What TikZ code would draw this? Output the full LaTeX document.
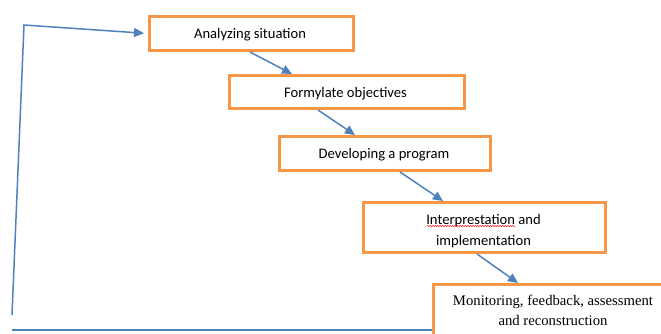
\documentclass[tikz,border=0pt]{standalone}
\usepackage{fontspec}
\setmainfont{Carlito}
\newfontfamily\timesfont{Liberation Serif}
\usetikzlibrary{arrows.meta,decorations.pathmorphing}
\definecolor{boxorange}{HTML}{F79646}
\definecolor{arrowblue}{HTML}{4F81BD}
\tikzset{
  stepbox/.style={draw=boxorange, line width=3pt, fill=white, anchor=north west, inner sep=0pt, align=center, font=\fontsize{14.4}{21}\selectfont},
  steptext/.style={inner sep=0pt, align=center, yshift=-1.5pt, font=\fontsize{14.6}{21}\selectfont},
  flow/.style={draw=arrowblue, line width=1.5pt, -{Triangle[length=10pt,width=9pt]}},
  plain/.style={draw=arrowblue, line width=1.5pt}
}
\begin{document}
\begin{tikzpicture}[x=1pt,y=-1pt]
\useasboundingbox (0,0) rectangle (661,333);
\clip (0,0) rectangle (661,333);
\node[stepbox, minimum width=204pt, minimum height=34pt] (a) at (148,15) {};
\node[steptext] (at) at (250,33) {Analyzing situation};
\node[stepbox, minimum width=235pt, minimum height=33pt] (b) at (228,74) {};
\node[steptext] (bt) at (345.5,92.5) {Formylate objectives};
\node[stepbox, minimum width=211pt, minimum height=34pt] (c) at (278,135) {};
\node[steptext] (ct) at (384,153) {Developing a program};
\node[stepbox, minimum width=242pt, minimum height=50pt] (d) at (362,201) {};
\node[steptext] (dt) at (483.5,230) {Interprestation and\\implementation};
\node[stepbox, minimum width=236pt, minimum height=56pt] (e) at (432,283) {};
\node[font=\timesfont\fontsize{14.7}{19.5}\selectfont, align=center, inner sep=0pt] (et) at (553,310.5) {Monitoring, feedback, assessment\\and reconstruction};
\draw[red, line width=0.5pt, decorate, decoration={snake, amplitude=0.6pt, segment length=2.5pt}] (427,226) -- (515,226);
\coordinate (p1) at (12,315);
\coordinate (p2) at (24,25);
\coordinate (p3) at (12,330);
\path[flow, shorten >=4pt] (p1) -- (p2) -- (a.west);
\path[plain] (p3) -- (e.west |- p3);
\path[flow] ([xshift=102pt]a.south west) -- ([xshift=64pt]b.north west);
\path[flow] ([xshift=90pt]b.south west) -- ([xshift=77pt]c.north west);
\path[flow] ([xshift=122pt]c.south west) -- ([xshift=81pt]d.north west);
\path[flow] ([xshift=115pt]d.south west) -- ([xshift=86pt]e.north west);
\end{tikzpicture}
\end{document}
